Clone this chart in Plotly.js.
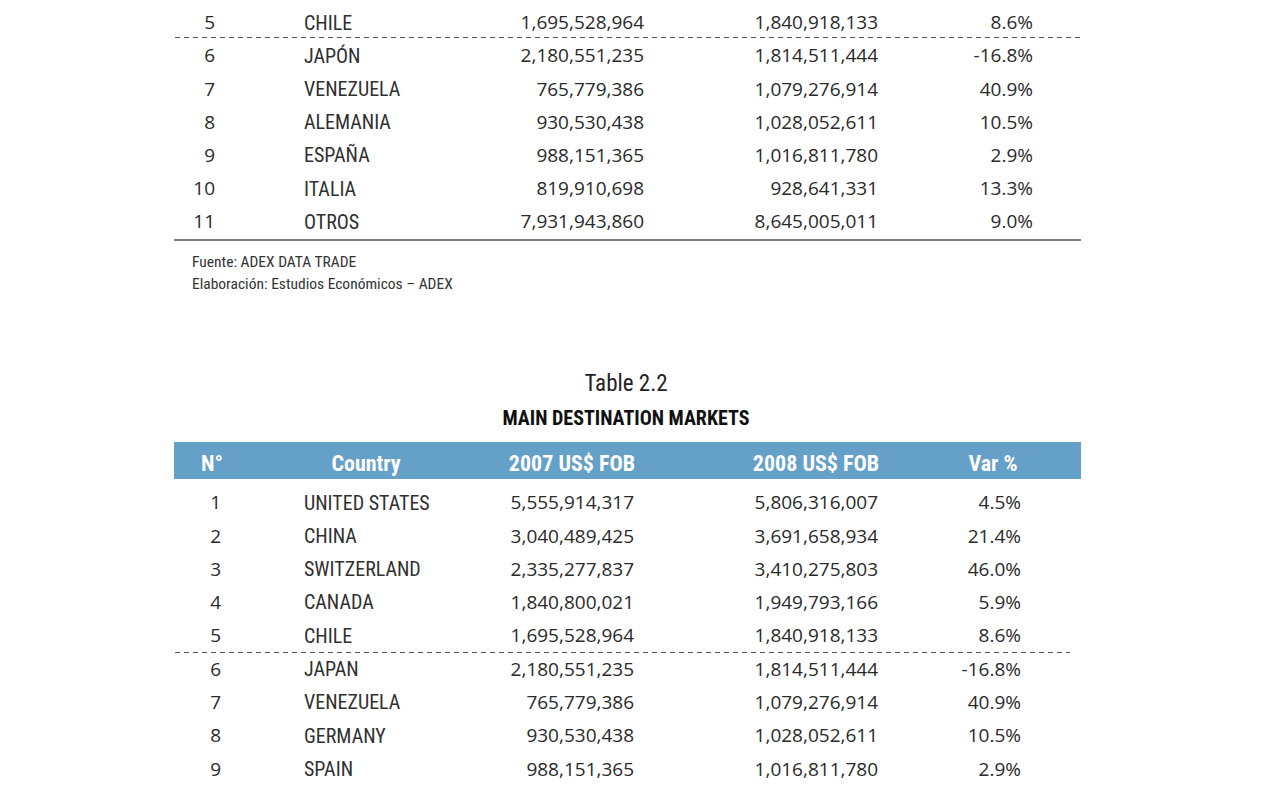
<!DOCTYPE html>
<html><head><meta charset="utf-8">
<script src="https://cdn.plot.ly/plotly-3.0.1.min.js"></script>
<style>
html,body{margin:0;padding:0;background:#fff;overflow:hidden}
#chart{width:1272px;height:791px}
#chart text[style*="Roboto"]{font-stretch:condensed}
</style>
</head><body><div id="chart"></div>
<script>
// ---- data: upper table (Spanish, partially visible) ----
const topRanks = [5, 6, 7, 8, 9, 10, 11];
const topCountries = ['CHILE', 'JAPÓN', 'VENEZUELA', 'ALEMANIA', 'ESPAÑA', 'ITALIA', 'OTROS'];
const top2007 = [1695528964, 2180551235, 765779386, 930530438, 988151365, 819910698, 7931943860];
const top2008 = [1840918133, 1814511444, 1079276914, 1028052611, 1016811780, 928641331, 8645005011];
const topVar = [8.6, -16.8, 40.9, 10.5, 2.9, 13.3, 9.0];
const notes = ['Fuente: ADEX DATA TRADE', 'Elaboración: Estudios Económicos – ADEX'];

// ---- data: Table 2.2 ----
const tableTitle = 'Table 2.2';
const tableSubtitle = 'MAIN DESTINATION MARKETS';
const headers = ['N°', 'Country', '2007 US$ FOB', '2008 US$ FOB', 'Var %'];
const ranks = [1, 2, 3, 4, 5, 6, 7, 8, 9];
const countries = ['UNITED STATES', 'CHINA', 'SWITZERLAND', 'CANADA', 'CHILE', 'JAPAN', 'VENEZUELA', 'GERMANY', 'SPAIN'];
const v2007 = [5555914317, 3040489425, 2335277837, 1840800021, 1695528964, 2180551235, 765779386, 930530438, 988151365];
const v2008 = [5806316007, 3691658934, 3410275803, 1949793166, 1840918133, 1814511444, 1079276914, 1028052611, 1016811780];
const varPct = [4.5, 21.4, 46.0, 5.9, 8.6, -16.8, 40.9, 10.5, 2.9];

// ---- styling / layout ----
const NAME_FONT = 'Roboto, "DejaVu Sans", sans-serif';
const NUM_FONT = '"Open Sans", "Noto Sans", sans-serif';
const TXT = '#2a2a2a';
const fmt = v => v.toLocaleString('en-US');
const fmtP = v => v.toFixed(1) + '%';

const geomTop = {y0: 24.5, step: 33.2, rankX: 215, countryX: 304, c7X: 644, c8X: 878, varX: 1033};
const geomBot = {y0: 504.5, step: 33.3, rankX: 221, countryX: 304, c7X: 634, c8X: 878, varX: 1021};

function txt(xs, ys, texts, pos, font, size, color, weight) {
  return {type: 'scatter', mode: 'text', x: xs, y: ys, text: texts, textposition: pos,
    textfont: {family: font, size: size, color: color || TXT, weight: weight || 'normal'},
    hoverinfo: 'skip', showlegend: false, cliponaxis: false};
}
function tableTraces(g, rk, ct, a, b, v) {
  const ys = rk.map((_, i) => g.y0 + i * g.step);
  const cx = x => rk.map(() => x);
  return [
    txt(cx(g.rankX), ys, rk.map(String), 'middle left', NUM_FONT, 19),
    txt(cx(g.countryX), ys, ct, 'middle right', NAME_FONT, 20, '#303030'),
    txt(cx(g.c7X), ys, a.map(fmt), 'middle left', NUM_FONT, 19),
    txt(cx(g.c8X), ys, b.map(fmt), 'middle left', NUM_FONT, 19),
    txt(cx(g.varX), ys, v.map(fmtP), 'middle left', NUM_FONT, 19)
  ];
}

const traces = [].concat(
  tableTraces(geomTop, topRanks, topCountries, top2007, top2008, topVar),
  tableTraces(geomBot, ranks, countries, v2007, v2008, varPct)
);

// header labels
const headerX = [212, 366, 572, 816, 993];
traces.push(txt(headerX, headers.map(() => 465), headers, 'middle center', NAME_FONT, 22, '#ffffff', 'bold'));
// titles
traces.push(txt([626], [385], [tableTitle], 'middle center', NAME_FONT, 23, '#222222'));
traces.push(txt([626], [420], [tableSubtitle], 'middle center', NAME_FONT, 20, '#111111', 'bold'));
// notes
traces.push(txt([192, 192], [263, 285], notes, 'middle right', NAME_FONT, 15.5, '#333333'));

const shapes = [
  {type: 'line', x0: 175, x1: 1080, y0: 37.5, y1: 37.5, xref: 'x', yref: 'y', line: {color: '#555', width: 1, dash: '5px,4px'}},
  {type: 'line', x0: 174, x1: 1081, y0: 240, y1: 240, xref: 'x', yref: 'y', line: {color: '#555', width: 1.5}},
  {type: 'rect', x0: 174, x1: 1081, y0: 442, y1: 479, xref: 'x', yref: 'y', fillcolor: '#64a0c8', line: {width: 0}, layer: 'below'},
  {type: 'line', x0: 175, x1: 1070, y0: 652.5, y1: 652.5, xref: 'x', yref: 'y', line: {color: '#555', width: 1, dash: '5px,4px'}}
];

const layout = {
  width: 1272, height: 791,
  margin: {l: 0, r: 0, t: 0, b: 0},
  paper_bgcolor: '#ffffff', plot_bgcolor: '#ffffff',
  xaxis: {range: [0, 1272], visible: false, fixedrange: true},
  yaxis: {range: [791, 0], visible: false, fixedrange: true},
  shapes: shapes, showlegend: false
};
Plotly.newPlot('chart', traces, layout, {staticPlot: true, displayModeBar: false});
</script></body></html>
